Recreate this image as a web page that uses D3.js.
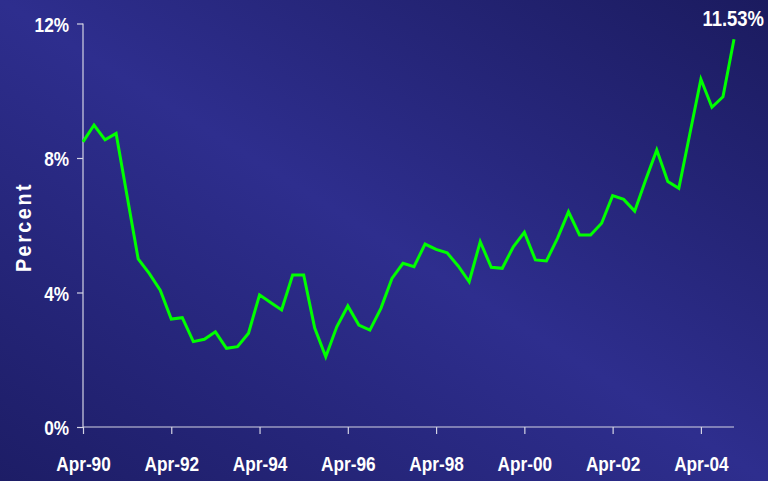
<!DOCTYPE html>
<html>
<head>
<meta charset="utf-8">
<script src="https://cdn.jsdelivr.net/npm/d3@7"></script>
<style>
  html, body { margin: 0; padding: 0; background: #2b2b85; }
  svg { display: block; }
  .lbl { font-family: "Liberation Sans", Arial, sans-serif; font-weight: bold; fill: #ffffff; }
</style>
</head>
<body>
<svg id="chart" width="768" height="481"></svg>
<script>
const quarters = [
  "Apr-90","Jul-90","Oct-90","Jan-91","Apr-91","Jul-91","Oct-91","Jan-92",
  "Apr-92","Jul-92","Oct-92","Jan-93","Apr-93","Jul-93","Oct-93","Jan-94",
  "Apr-94","Jul-94","Oct-94","Jan-95","Apr-95","Jul-95","Oct-95","Jan-96",
  "Apr-96","Jul-96","Oct-96","Jan-97","Apr-97","Jul-97","Oct-97","Jan-98",
  "Apr-98","Jul-98","Oct-98","Jan-99","Apr-99","Jul-99","Oct-99","Jan-00",
  "Apr-00","Jul-00","Oct-00","Jan-01","Apr-01","Jul-01","Oct-01","Jan-02",
  "Apr-02","Jul-02","Oct-02","Jan-03","Apr-03","Jul-03","Oct-03","Jan-04",
  "Apr-04","Jul-04","Oct-04","Jan-05"
];
const percentValues = [
  8.48, 8.98, 8.54, 8.73, 6.86, 5.00, 4.57, 4.07,
  3.21, 3.25, 2.54, 2.61, 2.83, 2.34, 2.39, 2.79,
  3.93, 3.70, 3.48, 4.52, 4.52, 2.94, 2.09, 2.98,
  3.60, 3.03, 2.88, 3.53, 4.42, 4.87, 4.77, 5.44,
  5.28, 5.18, 4.79, 4.32, 5.51, 4.75, 4.72, 5.36,
  5.79, 4.97, 4.94, 5.61, 6.40, 5.71, 5.71, 6.06,
  6.88, 6.77, 6.42, 7.35, 8.24, 7.30, 7.10, 8.72,
  10.34, 9.51, 9.82, 11.53
];
const xTickLabels = ["Apr-90","Apr-92","Apr-94","Apr-96","Apr-98","Apr-00","Apr-02","Apr-04"];
const yTickValues = [0, 4, 8, 12];
const yAxisTitle = "Percent";
const lastLabel = "11.53%";

const svg = d3.select("#chart");
const W = 768, H = 481;
const narrow = 0.82;

// background gradient
const defs = svg.append("defs");
const grad = defs.append("linearGradient").attr("id", "bg")
  .attr("x1", "100%").attr("y1", "0%").attr("x2", "0%").attr("y2", "100%");
grad.append("stop").attr("offset", "0%").attr("stop-color", "#1b1b5f");
grad.append("stop").attr("offset", "50%").attr("stop-color", "#2e2e8e");
grad.append("stop").attr("offset", "100%").attr("stop-color", "#1d1d66");
svg.append("rect").attr("width", W).attr("height", H).attr("fill", "url(#bg)");

const x = d3.scalePoint().domain(quarters).range([83, 734]);
const y = d3.scaleLinear().domain([0, 12]).range([427, 23.5]);

const axisColor = "#d4d4e4";

// Y axis
const yAxis = svg.append("g").attr("transform", "translate(83,0)")
  .call(d3.axisLeft(y).tickValues(yTickValues).tickFormat(d => d + "%").tickSize(6).tickPadding(8));
yAxis.select(".domain").attr("stroke", axisColor).attr("d", `M0,${y(12)}V${y(0)}`);
yAxis.selectAll(".tick line").attr("stroke", axisColor);
yAxis.selectAll(".tick text")
  .attr("class", "lbl").attr("font-size", 21).attr("dy", "0.36em")
  .attr("x", -14 / narrow)
  .attr("transform", `scale(${narrow},1)`);

// X axis
const xAxis = svg.append("g").attr("transform", `translate(0,${y(0)})`)
  .call(d3.axisBottom(x).tickValues(xTickLabels).tickSize(7).tickPadding(22));
xAxis.select(".domain").attr("stroke", axisColor).attr("d", `M83,0H734`);
xAxis.selectAll(".tick line").attr("stroke", axisColor);
xAxis.selectAll(".tick text")
  .attr("class", "lbl").attr("font-size", 21)
  .attr("transform", `scale(${narrow},1)`);

svg.selectAll(".domain, .tick line").attr("stroke-width", 1.2);
svg.selectAll(".tick text").attr("fill", "#ffffff").attr("font-family", null);

// Y axis title
svg.append("g").attr("transform", "translate(31,227) rotate(-90) scale(0.9,1)")
  .append("text").attr("class", "lbl")
  .attr("text-anchor", "middle")
  .attr("font-size", 22)
  .attr("letter-spacing", 2.8)
  .text(yAxisTitle);

// line
const line = d3.line().x((d, i) => x(quarters[i])).y(d => y(d));
svg.append("path").datum(percentValues)
  .attr("fill", "none").attr("stroke", "#00ff00").attr("stroke-width", 3)
  .attr("stroke-linejoin", "miter")
  .attr("d", line);

// last value label
svg.append("g").attr("transform", `translate(764,26) scale(${narrow},1)`)
  .append("text").attr("class", "lbl")
  .attr("text-anchor", "end")
  .attr("font-size", 22.5)
  .text(lastLabel);
</script>
</body>
</html>
